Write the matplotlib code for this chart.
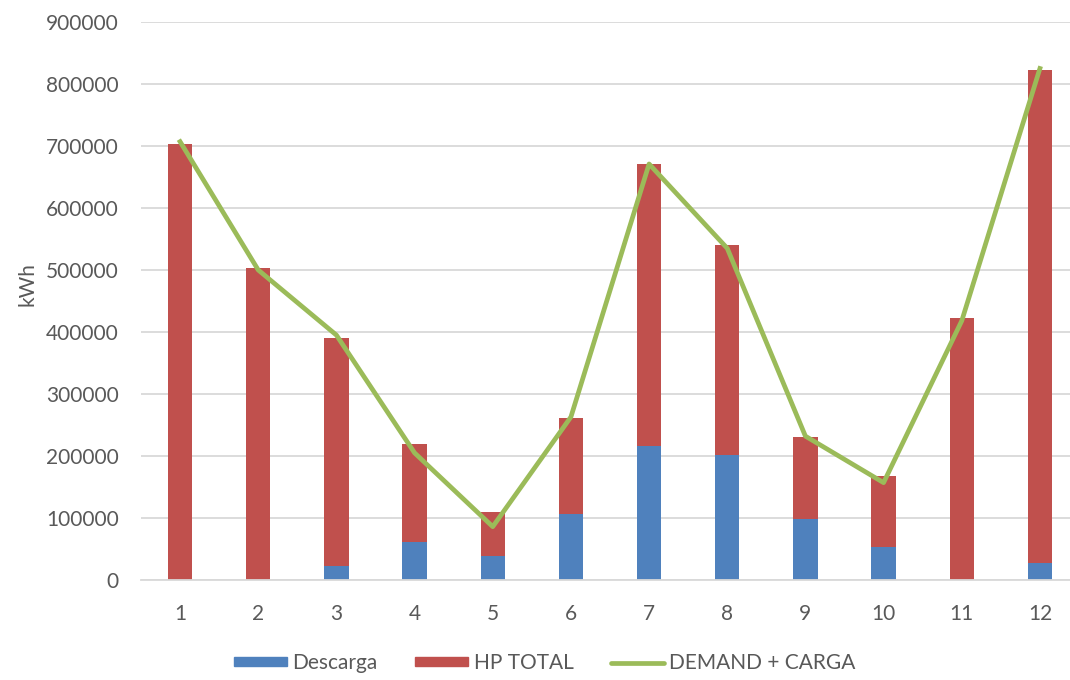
import numpy as np
import matplotlib
matplotlib.use('Agg')
import matplotlib.pyplot as plt
from matplotlib.patches import Rectangle
from matplotlib.lines import Line2D

plt.rcParams['font.family'] = ['Lato', 'DejaVu Sans']

# monthly energy balance (kWh)
months = ['1', '2', '3', '4', '5', '6', '7', '8', '9', '10', '11', '12']
descarga = [0, 0, 23000, 62000, 39000, 107000, 216000, 201000, 99000, 53000, 0, 27000]
hp_total = [704000, 504000, 368000, 158000, 70000, 155000, 455000, 339000, 131000, 115000, 423000, 795000]
demand_carga = [707000, 500000, 395000, 205000, 86000, 263000, 671000, 535000, 232000, 157000, 418000, 825000]

blue = '#4F81BD'
red = '#C0504D'
green = '#9BBB59'
text_color = '#595959'
grid_color = '#D9D9D9'
fs = 15

fig = plt.figure(figsize=(10.7, 6.8), dpi=100)
ax = fig.add_axes([141 / 1070, 100 / 680, 938 / 1070, 558 / 680])

x = np.arange(1, len(months) + 1)
ax.bar(x, descarga, width=0.31, color=blue, zorder=2)
ax.bar(x, hp_total, width=0.31, bottom=descarga, color=red, zorder=2)
ax.plot(x, demand_carga, color=green, linewidth=3.4, zorder=3, solid_joinstyle='round')

ax.set_xlim(0.5, 12.5)
ax.set_ylim(0, 900000)
ax.set_yticks(np.arange(0, 900001, 100000))
ax.set_yticklabels([str(v) for v in range(0, 900001, 100000)])
ax.set_xticks(x)
ax.set_xticklabels(months)
ax.tick_params(length=0, labelsize=fs, colors=text_color)
ax.tick_params(axis='y', pad=16)
ax.tick_params(axis='x', pad=17)
ax.grid(axis='y', color=grid_color, linewidth=1.3, zorder=0)
for s in ['top', 'right', 'left']:
    ax.spines[s].set_visible(False)
ax.spines['bottom'].set_color(grid_color)
ax.spines['bottom'].set_linewidth(1.3)
ax.set_ylabel('kWh', fontsize=fs, color=text_color)
ax.yaxis.set_label_coords(-104 / 938, 0.53)

handles = [Rectangle((0, 0), 1, 1, color=blue),
           Rectangle((0, 0), 1, 1, color=red),
           Line2D([0], [0], color=green, linewidth=3.4, solid_capstyle='round')]
fig.legend(handles, ['Descarga', 'HP TOTAL', 'DEMAND + CARGA'],
           loc='center', bbox_to_anchor=(545 / 1070, 1 - 663 / 680), ncol=3,
           frameon=False, fontsize=fs, labelcolor=text_color,
           handlelength=2.55, handleheight=0.3, handletextpad=0.25, columnspacing=1.8)

fig.savefig('out.png', dpi=100)
